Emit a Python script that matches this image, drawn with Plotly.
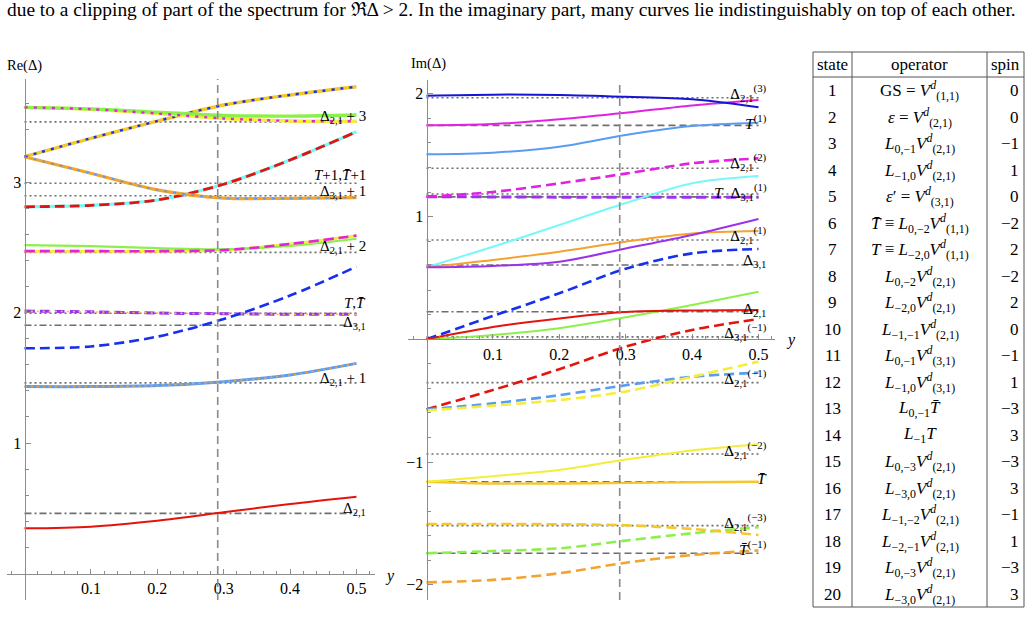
import plotly.graph_objects as go

W, H = 1032, 636
SERIF = "Liberation Serif, Times New Roman, serif"

# ---------------- data ----------------
xs = [0.0, 0.1, 0.2, 0.3, 0.4, 0.5]
y_star = 0.291

# Re(Delta) panel curves
re_eps        = [0.346, 0.359, 0.405, 0.469, 0.533, 0.589]
re_d21p1      = [1.432, 1.432, 1.440, 1.470, 1.521, 1.610]
re_TT         = [2.011, 2.005, 1.996, 1.990, 1.987, 1.986]
re_blue_dash  = [1.726, 1.740, 1.815, 1.950, 2.130, 2.351]
re_green_mid  = [2.517, 2.508, 2.493, 2.484, 2.510, 2.565]
re_mag_mid    = [2.470, 2.470, 2.470, 2.478, 2.525, 2.589]
re_red_dash   = [2.810, 2.821, 2.862, 2.983, 3.169, 3.385]
re_orange     = [3.194, 3.067, 2.940, 2.877, 2.875, 2.880]
re_gold_up    = [3.194, 3.335, 3.467, 3.590, 3.667, 3.730]
re_green_top  = [3.572, 3.560, 3.535, 3.510, 3.505, 3.513]
re_yel_top    = [3.572, 3.558, 3.525, 3.487, 3.468, 3.465]

# Im(Delta) panel curves
im_blue_top   = [1.985, 1.993, 1.990, 1.975, 1.955, 1.890]
im_mag_top    = [1.743, 1.754, 1.792, 1.845, 1.905, 1.950]
im_corn_top   = [1.507, 1.520, 1.569, 1.665, 1.738, 1.765]
im_mag_dash   = [1.162, 1.200, 1.270, 1.350, 1.434, 1.474]
im_pur_dash   = [1.162, 1.160, 1.158, 1.157, 1.157, 1.157]
im_cyan       = [0.587, 0.754, 0.931, 1.110, 1.271, 1.330]
im_purple     = [0.587, 0.598, 0.632, 0.740, 0.850, 0.980]
im_orange     = [0.587, 0.646, 0.714, 0.795, 0.862, 0.882]
im_blue_dash  = [0.000, 0.190, 0.375, 0.575, 0.700, 0.736]
im_green      = [0.000, 0.035, 0.090, 0.180, 0.280, 0.388]
im_red        = [0.000, 0.100, 0.170, 0.222, 0.235, 0.239]
im_red_dash   = [-0.570, -0.413, -0.244, -0.060, 0.076, 0.165]
im_yel_dash   = [-0.580, -0.540, -0.495, -0.425, -0.305, -0.182]
im_corn_dash  = [-0.570, -0.522, -0.455, -0.375, -0.305, -0.272]
im_yel_solid  = [-1.160, -1.115, -1.065, -0.980, -0.905, -0.855]
im_gold_flat  = [-1.160, -1.175, -1.175, -1.170, -1.165, -1.160]
im_gold_dash  = [-1.505, -1.505, -1.507, -1.515, -1.545, -1.594]
im_green_dash = [-1.743, -1.725, -1.703, -1.640, -1.580, -1.530]
im_orng_dash  = [-1.980, -1.960, -1.906, -1.820, -1.757, -1.720]

# reference levels
re_ref_dotted  = [3.461, 2.990, 2.895, 2.461, 1.994, 1.461]
re_ref_dashdot = [1.902, 0.461]
im_ref_dotted  = [1.968, 1.393, 1.184, 0.809, 0.020, -0.353, -0.934, -1.518]
im_ref_dashed  = [1.743, 1.160, -1.160, -1.743]
im_ref_dashdot = [0.605, 0.225]

D21 = "Δ<sub>2,1</sub>"
D31 = "Δ<sub>3,1</sub>"
TB = "<i>T̄</i>"
re_labels = [D21 + " + 3", "<i>T</i>+1," + TB + "+1", D31 + " + 1", D21 + " + 2",
             "<i>T</i>," + TB, D31, D21 + " + 1", D21]
re_label_y = [3.50, 3.05, 2.925, 2.50, 2.075, 1.92, 1.49, 0.494]
im_labels = [D21 + "<sup>(3)</sup>", "<i>T</i><sup>(1)</sup>", D21 + "<sup>(2)</sup>",
             "<i>T</i>  " + D31 + "<sup>(1)</sup>", D21 + "<sup>(1)</sup>", D31, D21,
             D31 + "<sup>(−1)</sup>", D21 + "<sup>(−1)</sup>", D21 + "<sup>(−2)</sup>", TB,
             D21 + "<sup>(−3)</sup>", TB + "<sup>(−1)</sup>"]
im_label_y = [2.01, 1.773, 1.447, 1.202, 0.85, 0.64, 0.244, 0.062, -0.318, -0.902, -1.132,
              -1.486, -1.703]

x_ticks = [0.1, 0.2, 0.3, 0.4, 0.5]
re_yticks = [1, 2, 3]
im_yticks = [-2, -1, 1, 2]

states = list(range(1, 21))
V11 = "<i>V</i><sup><i>d</i></sup><sub>(1,1)</sub>"
V21 = "<i>V</i><sup><i>d</i></sup><sub>(2,1)</sub>"
V31 = "<i>V</i><sup><i>d</i></sup><sub>(3,1)</sub>"
operators = [
    "GS = " + V11, "<i>ε</i> = " + V21, "<i>L</i><sub>0,−1</sub>" + V21,
    "<i>L</i><sub>−1,0</sub>" + V21, "<i>ε</i>′ = " + V31,
    TB + " ≡ <i>L</i><sub>0,−2</sub>" + V11, "<i>T</i> ≡ <i>L</i><sub>−2,0</sub>" + V11,
    "<i>L</i><sub>0,−2</sub>" + V21, "<i>L</i><sub>−2,0</sub>" + V21,
    "<i>L</i><sub>−1,−1</sub>" + V21, "<i>L</i><sub>0,−1</sub>" + V31,
    "<i>L</i><sub>−1,0</sub>" + V31, "<i>L</i><sub>0,−1</sub>" + TB,
    "<i>L</i><sub>−1</sub><i>T</i>", "<i>L</i><sub>0,−3</sub>" + V21,
    "<i>L</i><sub>−3,0</sub>" + V21, "<i>L</i><sub>−1,−2</sub>" + V21,
    "<i>L</i><sub>−2,−1</sub>" + V21, "<i>L</i><sub>0,−3</sub>" + V21,
    "<i>L</i><sub>−3,0</sub>" + V21,
]
spins = [0, 0, -1, 1, 0, -2, 2, -2, 2, 0, -1, 1, -3, 3, -3, 3, -1, 1, -3, 3]

caption = ("due to a clipping of part of the spectrum for ℜΔ > 2. In the imaginary part, "
           "many curves lie indistinguishably on top of each other.")

# ---------------- styles ----------------
C = dict(red="#e3140e", blue="#1530ee", dblue="#1616d2", corn="#5a9cf2", orange="#f2a42e",
         gold="#f4c72c", yellow="#f4ee3a", green="#8cf04a", magenta="#e222e2",
         purple="#9a32ee", cyan="#78f8f8", gray="#6e6e6e")
DASH = "10px,5px"
DOTS = "3px,6px"

fig = go.Figure()


def curve(y, color, width, dash="solid", ax=1):
    fig.add_trace(go.Scatter(
        x=xs, y=y, mode="lines", hoverinfo="skip", showlegend=False,
        line=dict(color=color, width=width, dash=dash, shape="spline", smoothing=0.9),
        xaxis="x" if ax == 1 else "x2", yaxis="y" if ax == 1 else "y2"))


def ref(v, dash, ax=1):
    fig.add_trace(go.Scatter(
        x=[xs[0], xs[-1]], y=[v, v], mode="lines", hoverinfo="skip", showlegend=False,
        line=dict(color=C["gray"], width=1.6, dash=dash),
        xaxis="x" if ax == 1 else "x2", yaxis="y" if ax == 1 else "y2"))


# reference lines
for v in re_ref_dotted:
    ref(v, "2px,3px", 1)
for v in re_ref_dashdot:
    ref(v, "7px,3px,2px,3px", 1)
for v in im_ref_dotted:
    ref(v, "2px,3px", 2)
for v in im_ref_dashed:
    ref(v, "7px,4px", 2)
for v in im_ref_dashdot:
    ref(v, "7px,3px,2px,3px", 2)

# Re curves
curve(re_eps, C["red"], 2)
curve(re_d21p1, C["corn"], 3)
curve(re_d21p1, C["orange"], 1.6, "2px,4px")
curve(re_TT, C["purple"], 3, DASH)
curve(re_TT, C["gold"], 1.5, "2px,4px")
curve(re_blue_dash, C["blue"], 2.6, DASH)
curve(re_mag_mid, C["yellow"], 3)
curve(re_green_mid, C["green"], 2.2)
curve(re_mag_mid, C["magenta"], 2.6, DASH)
curve(re_red_dash, C["cyan"], 3.2)
curve(re_red_dash, C["red"], 2.8, DASH)
curve(re_orange, C["orange"], 3.2)
curve(re_orange, C["corn"], 1.8, DOTS)
curve(re_gold_up, C["gold"], 3.4)
curve(re_gold_up, C["blue"], 2.4, DOTS)
curve(re_yel_top, C["yellow"], 3.4)
curve(re_green_top, C["green"], 3.4)
curve(re_yel_top, C["magenta"], 2.4, DOTS)

# Im curves
curve(im_corn_top, C["corn"], 2, ax=2)
curve(im_mag_top, C["magenta"], 2, ax=2)
curve(im_blue_top, C["dblue"], 2, ax=2)
curve(im_pur_dash, C["purple"], 3, DASH, ax=2)
curve(im_mag_dash, C["magenta"], 2.6, DASH, ax=2)
curve(im_cyan, C["cyan"], 2, ax=2)
curve(im_orange, C["orange"], 2, ax=2)
curve(im_purple, C["purple"], 2, ax=2)
curve(im_blue_dash, C["blue"], 2.6, DASH, ax=2)
curve(im_green, C["green"], 2, ax=2)
curve(im_red, C["red"], 2, ax=2)
curve(im_red_dash, C["red"], 2.6, DASH, ax=2)
curve(im_corn_dash, C["corn"], 2.6, DASH, ax=2)
curve(im_yel_dash, C["yellow"], 2.6, DASH, ax=2)
curve(im_gold_flat, C["gold"], 2.4, ax=2)
curve(im_yel_solid, C["yellow"], 2, ax=2)
curve(im_green_dash, C["green"], 2.6, DASH, ax=2)
curve(im_gold_dash, C["gold"], 2.6, DASH, ax=2)
curve(im_orng_dash, C["orange"], 2.6, DASH, ax=2)

# vertical marker at y*
for xr, yr in (("x", "y domain"), ("x2", "y2 domain")):
    fig.add_shape(type="line", xref=xr, yref=yr, x0=y_star, x1=y_star, y0=0, y1=1,
                  line=dict(color="#8a8a8a", width=1.6, dash="8px,5px"), layer="above")

# ---------------- axes ----------------
def px_x(p):
    return p / W


def px_y(p):
    return 1 - p / H


def frange(a, b, step):
    out, k = [], 0
    while a + k * step <= b + 1e-9:
        out.append(round(a + k * step, 4))
        k += 1
    return out


AX = dict(showgrid=False, zeroline=False, showline=True, linecolor="#8c8c8c", linewidth=1,
          ticks="inside", ticklen=5, tickwidth=1, tickcolor="#8c8c8c", anchor="free",
          tickfont=dict(family=SERIF, size=16, color="black"), fixedrange=True)

re_x0_px, re_xscale = 24.5, 664.0
re_y0_px, re_yscale = 573.5, 130.5
im_x0_px, im_xscale = 426.5, 664.0
im_y0_px, im_yscale = 339.3, 122.75

xminor = [v for v in frange(-0.02, 0.52, 0.02) if round(v * 10, 6) % 1 != 0]
re_yminor = [v for v in frange(-0.2, 3.8, 0.2) if abs(v - round(v)) > 1e-6]
im_yminor = [v for v in frange(-2.0, 2.0, 0.2) if abs(v - round(v)) > 1e-6]
MINOR = dict(ticks="inside", ticklen=3, tickcolor="#8c8c8c", tickwidth=1)

fig.update_layout(
    xaxis=dict(AX, domain=[px_x(7), px_x(375)],
               range=[(7 - re_x0_px) / re_xscale, (375 - re_x0_px) / re_xscale],
               position=px_y(re_y0_px), tickvals=x_ticks,
               minor=dict(MINOR, tickmode="array", tickvals=xminor)),
    yaxis=dict(AX, domain=[px_y(600), px_y(79)],
               range=[(re_y0_px - 600) / re_yscale, (re_y0_px - 79) / re_yscale],
               position=px_x(re_x0_px), tickvals=re_yticks,
               minor=dict(MINOR, tickmode="array", tickvals=re_yminor)),
    xaxis2=dict(AX, domain=[px_x(408), px_x(775)],
                range=[(408 - im_x0_px) / im_xscale, (775 - im_x0_px) / im_xscale],
                position=px_y(im_y0_px), tickvals=x_ticks,
                minor=dict(MINOR, tickmode="array", tickvals=xminor)),
    yaxis2=dict(AX, domain=[px_y(600), px_y(80)],
                range=[(im_y0_px - 600) / im_yscale, (im_y0_px - 80) / im_yscale],
                position=px_x(im_x0_px), tickvals=im_yticks,
                minor=dict(MINOR, tickmode="array", tickvals=im_yminor)),
    width=W, height=H, autosize=False,
    margin=dict(l=0, r=0, t=0, b=0),
    paper_bgcolor="white", plot_bgcolor="white",
    font=dict(family=SERIF, color="black"),
)

ann = []


def note(text, x, y, size=14, xanchor="left", yanchor="middle", xref="paper", yref="paper"):
    ann.append(dict(text=text, x=x, y=y, xref=xref, yref=yref, xanchor=xanchor,
                    yanchor=yanchor, showarrow=False,
                    font=dict(family=SERIF, size=size, color="black")))


note(caption, px_x(5), px_y(10), size=19.4)
note("Re(Δ)", px_x(5), px_y(66), size=14.5)
note("Im(Δ)", px_x(409), px_y(63), size=14.5)
note("<i>y</i>", px_x(383), px_y(576), size=16)
note("<i>y</i>", px_x(784), px_y(340), size=16)

for t, yv in zip(re_labels, re_label_y):
    note(t, 0.518, yv, size=15, xanchor="right", xref="x", yref="y")
for t, yv in zip(im_labels, im_label_y):
    note(t, 0.516, yv, size=15.5, xanchor="right", xref="x2", yref="y2")

# ---------------- table ----------------
tb_left, tb_c1, tb_c2, tb_right = 813, 852, 987, 1024
tb_top, tb_head, tb_bottom = 52, 77, 607
row0, row_h = 90.5, 26.5

fig.add_shape(type="rect", xref="paper", yref="paper", x0=px_x(tb_left), x1=px_x(tb_right),
              y0=px_y(tb_bottom), y1=px_y(tb_top), line=dict(color="#555555", width=1))
for xc in (tb_c1, tb_c2):
    fig.add_shape(type="line", xref="paper", yref="paper", x0=px_x(xc), x1=px_x(xc),
                  y0=px_y(tb_bottom), y1=px_y(tb_top), line=dict(color="#555555", width=1))
fig.add_shape(type="line", xref="paper", yref="paper", x0=px_x(tb_left), x1=px_x(tb_right),
              y0=px_y(tb_head), y1=px_y(tb_head), line=dict(color="#555555", width=1))

hy = (tb_top + tb_head) / 2
note("state", px_x((tb_left + tb_c1) / 2), px_y(hy), size=17, xanchor="center")
note("operator", px_x((tb_c1 + tb_c2) / 2), px_y(hy), size=17, xanchor="center")
note("spin", px_x((tb_c2 + tb_right) / 2), px_y(hy), size=17, xanchor="center")

for i, (s, op, sp) in enumerate(zip(states, operators, spins)):
    yc = px_y(row0 + i * row_h)
    note(str(s), px_x((tb_left + tb_c1) / 2), yc, size=17, xanchor="center")
    note(op, px_x((tb_c1 + tb_c2) / 2), yc, size=17, xanchor="center")
    note(("−" if sp < 0 else "") + str(abs(sp)), px_x(tb_right - 3), yc, size=17,
         xanchor="right")

fig.update_layout(annotations=ann)
fig.write_html("out.html")
